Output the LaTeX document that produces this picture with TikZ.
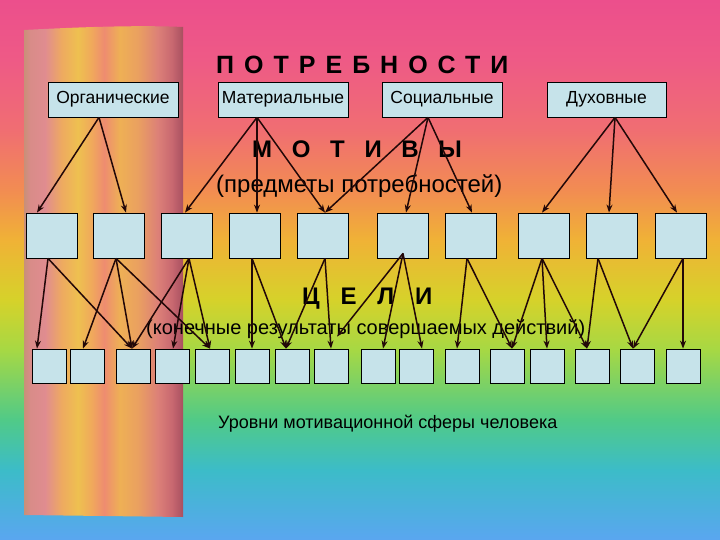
\documentclass[tikz,border=0pt]{standalone}
\usepackage{fontspec}
\setmainfont{Liberation Sans}
\usetikzlibrary{arrows.meta}
\definecolor{boxfill}{HTML}{C6E3EA}
\definecolor{arr}{HTML}{220808}
\definecolor{bga}{HTML}{EC4F8C}
\definecolor{bgb}{HTML}{EE5A86}
\definecolor{bgc}{HTML}{F06E72}
\definecolor{bgd}{HTML}{F28C52}
\definecolor{bge}{HTML}{F0B236}
\definecolor{bgf}{HTML}{D6D22A}
\definecolor{bgg}{HTML}{A6D844}
\definecolor{bgh}{HTML}{50CA88}
\definecolor{bgi}{HTML}{3CBCC8}
\definecolor{bgj}{HTML}{5AA6F0}
\definecolor{pa}{HTML}{C89078}
\definecolor{pb}{HTML}{D88C88}
\definecolor{pc}{HTML}{E08C90}
\definecolor{pd}{HTML}{EEAA60}
\definecolor{pe}{HTML}{EEC050}
\definecolor{pf}{HTML}{F0A85C}
\definecolor{pg}{HTML}{EE8C70}
\definecolor{ph}{HTML}{EEB055}
\definecolor{pi}{HTML}{EAA060}
\definecolor{pj}{HTML}{DC8078}
\definecolor{pk}{HTML}{C86870}
\definecolor{pl}{HTML}{A85060}
\pgfdeclareverticalshading{bgshade}{100bp}{color(0bp)=(bgj); color(25bp)=(bgj); color(31.48bp)=(bgi); color(36.11bp)=(bgh); color(42.59bp)=(bgg); color(47.22bp)=(bgf); color(52.78bp)=(bge); color(57.41bp)=(bgd); color(62.96bp)=(bgc); color(69.44bp)=(bgb); color(75bp)=(bga); color(100bp)=(bga)}
\pgfdeclarehorizontalshading{pillar}{100bp}{color(0bp)=(pa); color(25bp)=(pa); color(26.9bp)=(pb); color(31.6bp)=(pc); color(36.9bp)=(pd); color(42bp)=(pe); color(46.4bp)=(pf); color(50.2bp)=(pg); color(55.2bp)=(ph); color(60.8bp)=(pi); color(67.1bp)=(pj); color(71.5bp)=(pk); color(75bp)=(pl); color(100bp)=(pl)}
\begin{document}
\begin{tikzpicture}[x=1pt,y=-1pt,
  need/.style={draw=black, fill=boxfill, line width=0.8pt, minimum height=35pt, inner sep=0pt, font=\fontsize{17.5}{20}\selectfont},
  motbox/.style={draw=black, fill=boxfill, line width=0.8pt, minimum width=51pt, minimum height=45pt, inner sep=0pt},
  goalbox/.style={draw=black, fill=boxfill, line width=0.8pt, minimum width=34pt, minimum height=34pt, inner sep=0pt},
  link/.style={arr, line width=1.5pt, -{Stealth[length=8pt,width=6pt]}},
  heading/.style={anchor=base west, inner sep=0pt}]
\useasboundingbox (0,0) rectangle (720,540);
\shade[shading=bgshade] (0,0) rectangle (720,540);
\shade[shading=pillar] (24,30) .. controls (80,27) and (140,25) .. (183,27) -- (183,517) -- (24,515) -- cycle;

% headings
\node[heading, font=\fontsize{25}{30}\selectfont\bfseries\addfontfeature{LetterSpace=40}] (t1) at (216,74) {ПОТРЕБНОСТИ};
\node[heading, font=\fontsize{24}{28}\selectfont\bfseries\addfontfeature{LetterSpace=82}] (t2) at (252,158) {МОТИВЫ};
\node[heading, font=\fontsize{24}{28}\selectfont] (t3) at (216,193) {(предметы потребностей)};
\node[heading, font=\fontsize{24}{28}\selectfont\bfseries\addfontfeature{LetterSpace=87}] (t4) at (302,304) {ЦЕЛИ};
\node[heading, font=\fontsize{20}{24}\selectfont] (t5) at (146,334) {(конечные результаты совершаемых действий)};
\node[heading, font=\fontsize{18}{21}\selectfont] (t6) at (218,428) {Уровни мотивационной сферы человека};

% needs
\node[need, minimum width=130pt] (n1) at (113,99.5) {Органические};
\node[need, minimum width=130pt] (n2) at (283,99.5) {Материальные};
\node[need, minimum width=120pt] (n3) at (442,99.5) {Социальные};
\node[need, minimum width=119pt] (n4) at (606.5,99.5) {Духовные};

% motives
\foreach \i/\x in {1/51.5,2/118.5,3/186.5,4/254.5,5/322.5,6/402.5,7/471,8/543.5,9/612,10/680.5}
  \node[motbox] (m\i) at (\x,235.5) {};

% goals
\foreach \i/\x in {1/49,2/87,3/133.5,4/172.5,5/212,6/252,7/292,8/331,9/378,10/416,11/462,12/507,13/547.5,14/592.5,15/637,16/683}
  \node[goalbox] (g\i) at (\x,366) {};

% needs -> motives
\draw[link] ([xshift=-14pt]n1.south) -- ([xshift=-14.5pt]m1.north);
\draw[link] ([xshift=-14pt]n1.south) -- ([xshift=7.5pt]m2.north);
\draw[link] ([xshift=-26pt]n2.south) -- ([xshift=-1.5pt]m3.north);
\draw[link] ([xshift=-26pt]n2.south) -- ([xshift=2.5pt]m4.north);
\draw[link] ([xshift=-26pt]n2.south) -- ([xshift=2.5pt]m5.north);
\draw[link] ([xshift=-14pt]n3.south) -- ([xshift=2.5pt]m5.north);
\draw[link] ([xshift=-14pt]n3.south) -- ([xshift=3.5pt]m6.north);
\draw[link] ([xshift=-14pt]n3.south) -- ([xshift=1pt]m7.north);
\draw[link] ([xshift=8.5pt]n4.south) -- ([xshift=-1.5pt]m8.north);
\draw[link] ([xshift=8.5pt]n4.south) -- ([xshift=-3pt]m9.north);
\draw[link] ([xshift=8.5pt]n4.south) -- ([xshift=-3.5pt]m10.north);

% motives -> goals
\draw[link] ([xshift=-3.5pt]m1.south) -- ([xshift=-12pt]g1.north);
\draw[link] ([xshift=-3.5pt]m1.south) -- ([xshift=-1.5pt]g3.north);
\draw[link] ([xshift=-2.5pt]m2.south) -- ([xshift=-4pt]g2.north);
\draw[link] ([xshift=-2.5pt]m2.south) -- ([xshift=-1.5pt]g3.north);
\draw[link] ([xshift=-2.5pt]m2.south) -- ([xshift=-2pt]g5.north);
\draw[link] ([xshift=2.5pt]m3.south) -- ([xshift=-1.5pt]g3.north);
\draw[link] ([xshift=2.5pt]m3.south) -- ([xshift=0.5pt]g4.north);
\draw[link] ([xshift=2.5pt]m3.south) -- ([xshift=-2pt]g5.north);
\draw[link] ([xshift=-2.5pt]m4.south) -- (g6.north);
\draw[link] ([xshift=-2.5pt]m4.south) -- ([xshift=-6pt]g7.north);
\draw[link] ([xshift=2.5pt]m5.south) -- ([xshift=-6pt]g7.north);
\draw[link] ([xshift=2.5pt]m5.south) -- (g8.north);
\draw[link] ([xshift=0.5pt,yshift=5pt]m6.south) -- ([xshift=6pt,yshift=12pt]g8.north);
\draw[link] ([xshift=0.5pt,yshift=5pt]m6.south) -- ([xshift=5pt]g9.north);
\draw[link] ([xshift=0.5pt,yshift=5pt]m6.south) -- ([xshift=6pt]g10.north);
\draw[link] ([xshift=-4pt]m7.south) -- ([xshift=-5pt]g11.north);
\draw[link] ([xshift=-4pt]m7.south) -- ([xshift=5pt]g12.north);
\draw[link] ([xshift=-1.5pt]m8.south) -- ([xshift=5pt]g12.north);
\draw[link] ([xshift=-1.5pt]m8.south) -- ([xshift=-0.5pt]g13.north);
\draw[link] ([xshift=-1.5pt]m8.south) -- ([xshift=-5.5pt]g14.north);
\draw[link] ([xshift=-14pt]m9.south) -- ([xshift=-5.5pt]g14.north);
\draw[link] ([xshift=-14pt]m9.south) -- ([xshift=-4pt]g15.north);
\draw[link] ([xshift=2.5pt]m10.south) -- ([xshift=-4pt]g15.north);
\draw[link] ([xshift=2.5pt]m10.south) -- (g16.north);
\end{tikzpicture}
\end{document}
